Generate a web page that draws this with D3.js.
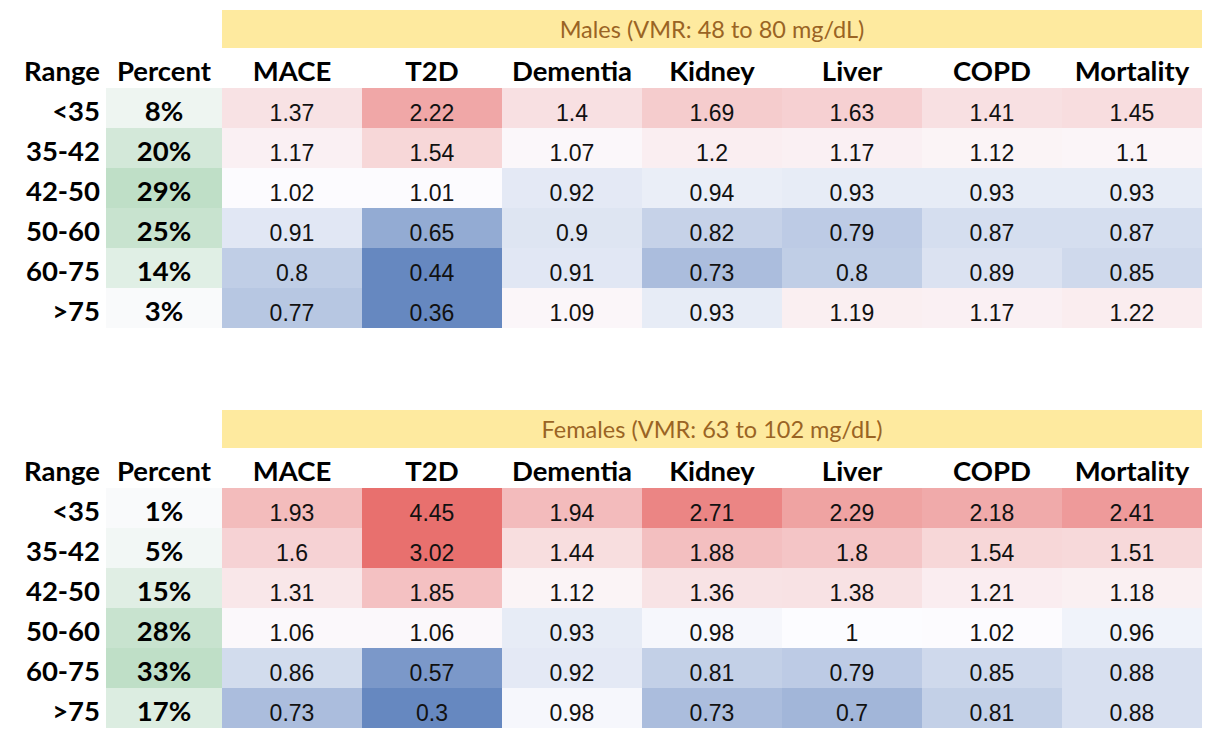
<!DOCTYPE html>
<html>
<head>
<meta charset="utf-8">
<script src="https://cdn.jsdelivr.net/npm/d3@7"></script>
<style>
  html, body { margin: 0; padding: 0; background: #ffffff; }
  svg { display: block; }
</style>
</head>
<body>
<svg id="chart" width="1210" height="742"></svg>
<script>
// ---- data ----
const ranges = ["<35", "35-42", "42-50", "50-60", "60-75", ">75"];
const outcomes = ["MACE", "T2D", "Dementia", "Kidney", "Liver", "COPD", "Mortality"];
const titles = ["Males (VMR: 48 to 80 mg/dL)", "Females (VMR: 63 to 102 mg/dL)"];

const malePercent = [8, 20, 29, 25, 14, 3];
const femalePercent = [1, 5, 15, 28, 33, 17];

// rows = ranges, columns = outcomes
const maleValues = [
  [1.37, 2.22, 1.4, 1.69, 1.63, 1.41, 1.45],
  [1.17, 1.54, 1.07, 1.2, 1.17, 1.12, 1.1],
  [1.02, 1.01, 0.92, 0.94, 0.93, 0.93, 0.93],
  [0.91, 0.65, 0.9, 0.82, 0.79, 0.87, 0.87],
  [0.8, 0.44, 0.91, 0.73, 0.8, 0.89, 0.85],
  [0.77, 0.36, 1.09, 0.93, 1.19, 1.17, 1.22]
];
const femaleValues = [
  [1.93, 4.45, 1.94, 2.71, 2.29, 2.18, 2.41],
  [1.6, 3.02, 1.44, 1.88, 1.8, 1.54, 1.51],
  [1.31, 1.85, 1.12, 1.36, 1.38, 1.21, 1.18],
  [1.06, 1.06, 0.93, 0.98, 1, 1.02, 0.96],
  [0.86, 0.57, 0.92, 0.81, 0.79, 0.85, 0.88],
  [0.73, 0.3, 0.98, 0.73, 0.7, 0.81, 0.88]
];

const panels = [
  { title: titles[0], percent: malePercent, values: maleValues, top: 0 },
  { title: titles[1], percent: femalePercent, values: femaleValues, top: 400 }
];

// ---- drawing ----
const svg = d3.select("#chart");
const headFont = "Lato, 'Open Sans', sans-serif";
const valFont = "'Liberation Sans', Arial, sans-serif";
const headSize = 27.5;

const x = d3.scaleBand().domain(outcomes).range([222, 1202]);
const ratioColor = d3.scaleLinear()
  .domain([0.5, 1, 3.02])
  .range(["#6688c0", "#fcfcff", "#e8706e"])
  .interpolate(d3.interpolateRgb)
  .clamp(true);

panels.forEach(p => {
  const g = svg.append("g").attr("transform", `translate(0,${p.top})`);
  const y = d3.scaleBand().domain(ranges).range([88, 328]);
  const pctColor = d3.scaleLinear()
    .domain(d3.extent(p.percent))
    .range(["#f9fafb", "#bfdfc7"]);

  // title bar
  g.append("rect")
    .attr("x", x.range()[0]).attr("y", 10)
    .attr("width", x.range()[1] - x.range()[0]).attr("height", 38)
    .attr("fill", "#feea9f");
  g.append("text")
    .attr("x", (x.range()[0] + x.range()[1]) / 2).attr("y", 29)
    .attr("text-anchor", "middle").attr("dominant-baseline", "central")
    .attr("font-family", headFont).attr("font-size", 23.5)
    .attr("fill", "#9a6424")
    .text(p.title);

  // header row
  const hy = 70;
  g.append("text").attr("x", 100).attr("y", hy)
    .attr("text-anchor", "end").attr("dominant-baseline", "central")
    .attr("font-family", headFont).attr("font-weight", 700).attr("font-size", headSize)
    .text("Range");
  g.append("text").attr("x", 164).attr("y", hy)
    .attr("text-anchor", "middle").attr("dominant-baseline", "central")
    .attr("font-family", headFont).attr("font-weight", 700).attr("font-size", headSize)
    .text("Percent");
  g.selectAll("text.hdr").data(outcomes).enter().append("text")
    .attr("class", "hdr")
    .attr("x", d => x(d) + x.bandwidth() / 2).attr("y", hy)
    .attr("text-anchor", "middle").attr("dominant-baseline", "central")
    .attr("font-family", headFont).attr("font-weight", 700).attr("font-size", headSize)
    .text(d => d);

  // range labels
  g.selectAll("text.rng").data(ranges).enter().append("text")
    .attr("class", "rng")
    .attr("x", 100).attr("y", d => y(d) + y.bandwidth() / 2 + 2)
    .attr("text-anchor", "end").attr("dominant-baseline", "central")
    .attr("font-family", headFont).attr("font-weight", 700).attr("font-size", headSize)
    .text(d => d);

  // percent cells
  const pc = g.selectAll("g.pct").data(p.percent).enter().append("g").attr("class", "pct");
  pc.append("rect")
    .attr("x", 106).attr("y", (d, i) => y(ranges[i]))
    .attr("width", 116).attr("height", y.bandwidth())
    .attr("fill", d => pctColor(d));
  pc.append("text")
    .attr("x", 164).attr("y", (d, i) => y(ranges[i]) + y.bandwidth() / 2 + 2)
    .attr("text-anchor", "middle").attr("dominant-baseline", "central")
    .attr("font-family", headFont).attr("font-weight", 700).attr("font-size", headSize)
    .text(d => d + "%");

  // value cells
  const cells = [];
  p.values.forEach((row, i) => row.forEach((v, j) => cells.push({ r: ranges[i], c: outcomes[j], v })));
  const vc = g.selectAll("g.cell").data(cells).enter().append("g").attr("class", "cell");
  vc.append("rect")
    .attr("x", d => x(d.c)).attr("y", d => y(d.r))
    .attr("width", x.bandwidth()).attr("height", y.bandwidth())
    .attr("fill", d => ratioColor(d.v));
  vc.append("text")
    .attr("x", d => x(d.c) + x.bandwidth() / 2).attr("y", d => y(d.r) + y.bandwidth() / 2 + 4.5)
    .attr("text-anchor", "middle").attr("dominant-baseline", "central")
    .attr("font-family", valFont).attr("font-size", 23)
    .attr("fill", "#111")
    .text(d => String(d.v));
});
</script>
</body>
</html>
